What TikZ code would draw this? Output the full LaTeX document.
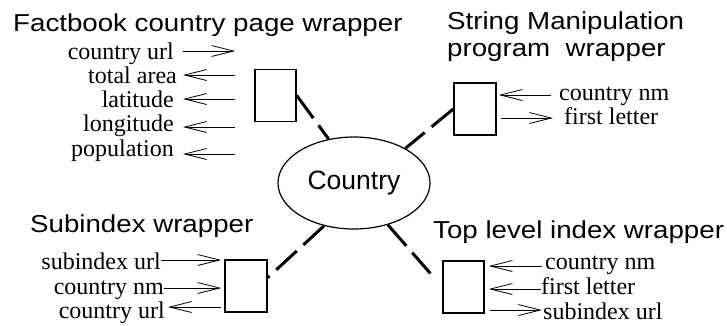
\documentclass[tikz,border=0pt]{standalone}
\usepackage{fontspec}
\setmainfont{Liberation Serif}
\setsansfont{Liberation Sans}
\newfontfamily\widesans[FakeStretch=1.13]{Liberation Sans}
\usetikzlibrary{arrows.meta,shapes.geometric}
\tikzset{
  wrapbox/.style = {draw, line width=1.5pt, inner sep=0pt,
                    minimum width=#1, minimum height=52pt},
  wrapbox/.default = 41pt,
  title/.style = {font=\widesans\fontsize{24.5}{27}\selectfont,
                  inner sep=0pt, align=left},
  % text height = twice the gap from arrow to baseline
  attr/.style = {font=\fontsize{24}{26}\selectfont, inner sep=0pt,
                 text height=#1, text depth=0pt},
  attr/.default = 16pt,
  flow/.style = {line width=0.8pt},
  link/.style = {line width=3pt, dash pattern=on 28pt off 9pt}
}

\begin{document}
\begin{tikzpicture}[x=1pt, y=-1pt, >={Straight Barb[length=22pt,width=11pt]}]
	\useasboundingbox (0,0) rectangle (727,325);

	% Center
	\node[ellipse, draw, line width=1.2pt, inner sep=0pt,
	      minimum width=152pt, minimum height=92pt,
	      font=\sffamily\fontsize{26.5}{28}\selectfont] (country) at (354,183) {Country};

	% Factbook country page wrapper
	\node[title, anchor=base west] (fbtitle) at (13,31) {Factbook country page wrapper};
	\node[wrapbox] (fb) at (275.5,95.5) {};
	\node[attr, anchor=east]        (fburl)  at (174,51)  {country url};
	\node[attr, anchor=east]        (fbarea) at (177,75)  {total area};
	\node[attr, anchor=east]        (fblat)  at (174,99)  {latitude};
	\node[attr=8pt, anchor=east]    (fblon)  at (174,127) {longitude};
	\node[attr=4pt, anchor=east]    (fbpop)  at (174,154) {population};
	\draw[flow, ->, shorten <=9pt, shorten >=19pt] (fburl.east)  -- (fb.west |- fburl);
	\draw[flow, <-, shorten <=6pt, shorten >=19pt] (fbarea.east) -- (fb.west |- fbarea);
	\draw[flow, <-, shorten <=9pt, shorten >=19pt] (fblat.east)  -- (fb.west |- fblat);
	\draw[flow, <-, shorten <=9pt, shorten >=19pt] (fblon.east)  -- (fb.west |- fblon);
	\draw[flow, <-, shorten <=9pt, shorten >=19pt] (fbpop.east)  -- (fb.west |- fbpop);
	\draw[link] (fb.east) -- (country.120);

	% String Manipulation program wrapper
	\node[title, anchor=north west] (smtitle) at (447,12) {String Manipulation\\program\ \ wrapper};
	\node[wrapbox=42pt] (sm) at (475,109) {};
	\node[attr=10pt, anchor=west] (smname)   at (559,95)  {country nm};
	\node[attr=12pt, anchor=west] (smletter) at (564,118) {first letter};
	\draw[flow, <-, shorten <=2pt, shorten >=8pt]  (sm.east |- smname)   -- (smname.west);
	\draw[flow, ->, shorten <=4pt, shorten >=11pt] (sm.east |- smletter) -- (smletter.west);
	\draw[link] (sm.west) -- (country.34);

	% Subindex wrapper
	\node[title, anchor=base west] (subtitle) at (30,232) {Subindex wrapper};
	\node[wrapbox=42pt] (sub) at (246,286) {};
	\node[attr=18pt, anchor=east] (subidx)  at (161,260) {subindex url};
	\node[attr=12pt, anchor=east] (subname) at (164,288) {country nm};
	\node[attr=22pt, anchor=east] (suburl)  at (165,307) {country url};
	\draw[flow, ->, shorten >=3pt] (subidx.east)  -- (sub.west |- subidx);
	\draw[flow, ->, shorten >=3pt] (subname.east) -- (sub.west |- subname);
	\draw[flow, <-, shorten <=3pt, shorten >=3pt] (suburl.east) -- (sub.west |- suburl);
	\draw[link] (country.235) -- (sub.21);

	% Top level index wrapper
	\node[title, anchor=base west] (tltitle) at (433,238) {Top level index wrapper};
	\node[wrapbox] (tl) at (463.5,287) {};
	\node[attr=6pt, anchor=west]  (tlname)   at (545,266) {country nm};
	\node[attr=10pt, anchor=west] (tlletter) at (541,289) {first letter};
	\node[attr=18pt, anchor=west] (tlidx)    at (543,310) {subindex url};
	\draw[flow, <-, shorten <=4pt, shorten >=3pt] (tl.east |- tlname)   -- (tlname.west);
	\draw[flow, <-, shorten <=4pt]                (tl.east |- tlletter) -- (tlletter.west);
	\draw[flow, ->, shorten <=5pt, shorten >=1pt] (tl.east |- tlidx)    -- (tlidx.west);
	\draw[link, shorten >=18pt] (country.309) -- (tl.west);

\end{tikzpicture}
\end{document}
